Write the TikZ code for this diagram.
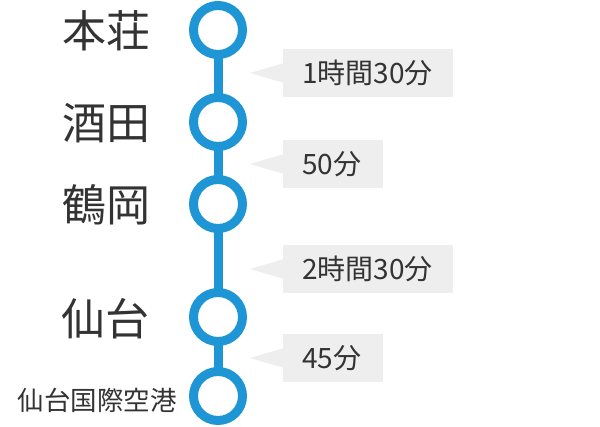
\documentclass[tikz,border=0pt]{standalone}
\usepackage{fontspec}
\setmainfont{Noto Sans CJK JP}
\definecolor{lineblue}{HTML}{1E96D5}
\definecolor{boxgray}{HTML}{EEEEEE}
\definecolor{txt}{HTML}{333333}
\begin{document}
\begin{tikzpicture}[x=1pt,y=-1pt,
  stationmark/.style={circle,draw=lineblue,line width=9pt,fill=white,minimum size=49pt,inner sep=0pt},
  bigname/.style={text=txt,font=\fontsize{44}{44}\selectfont,inner sep=0pt},
  smallname/.style={text=txt,font=\fontsize{26.5}{26.5}\selectfont,inner sep=0pt},
  timetext/.style={text=txt,font=\fontsize{28}{28}\selectfont,inner sep=0pt,anchor=west},
  track/.style={draw=lineblue,line width=9pt}]
\useasboundingbox (0,0) rectangle (600,427);
% track
\coordinate (top) at (218,30);
\coordinate (bot) at (218,396);
\draw[track] (top) -- (bot);
% stations
\node[stationmark] (s1) at (218,30) {};
\node[stationmark] (s2) at (218,122) {};
\node[stationmark] (s3) at (218,204) {};
\node[stationmark] (s4) at (218,317) {};
\node[stationmark] (s5) at (218,396) {};
% names
\node[bigname] (n1) at (106,31) {本荘};
\node[bigname] (n2) at (106,123) {酒田};
\node[bigname] (n3) at (106,205) {鶴岡};
\node[bigname] (n4) at (105,319) {仙台};
\node[smallname] (n5) at (97,400) {仙台国際空港};
% callouts
\foreach \nm/\y/\w/\t in {c1/73/170/1時間30分, c2/164/100/50分, c3/269/170/2時間30分, c4/358/100/45分}{
  \fill[boxgray] (283,\y-48/2) rectangle (283+\w,\y+48/2);
  \fill[boxgray] (250,\y) -- (284,\y-10) -- (284,\y+10) -- cycle;
  \node[timetext] (\nm) at (302,\y) {\t};
}
\end{tikzpicture}
\end{document}
